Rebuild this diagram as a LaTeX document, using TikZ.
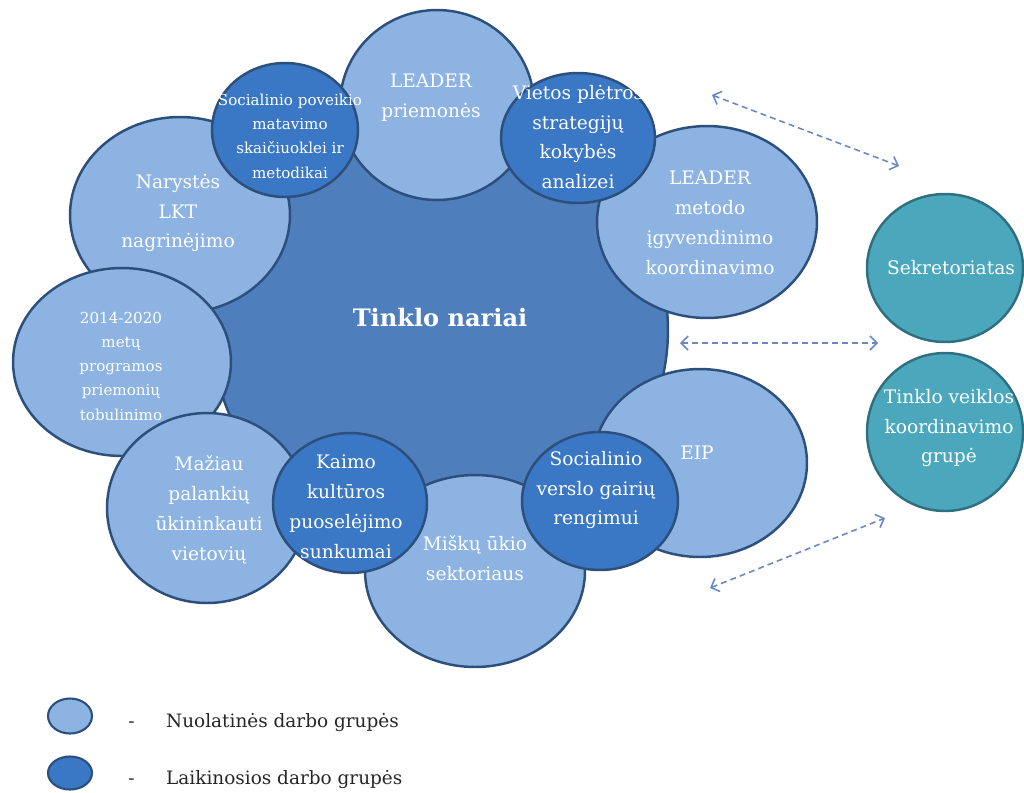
\documentclass[tikz,border=0pt]{standalone}
\usepackage{fontspec}
\setmainfont{DejaVu Serif}
\usepackage{xcolor}
\usepackage{tikz}
\usetikzlibrary{shapes.geometric, arrows.meta}

\definecolor{lightfill}{HTML}{8DB3E2}
\definecolor{darkfill}{HTML}{3A77C4}
\definecolor{corefill}{HTML}{4E7FBC}
\definecolor{grpline}{HTML}{2C4F7C}
\definecolor{tealfill}{HTML}{4BA8BC}
\definecolor{tealline}{HTML}{2F6F80}
\definecolor{linkcol}{HTML}{6A88C4}

\tikzset{
  wh/.style 2 args={minimum width=#1, minimum height=#2},
  grp/.style={ellipse, draw=grpline, line width=1.4pt, inner sep=0pt},
  lightgrp/.style={grp, fill=lightfill},
  darkgrp/.style={grp, fill=darkfill},
  sidegrp/.style={ellipse, draw=tealline, line width=1.4pt, fill=tealfill, inner sep=0pt},
  grptxt/.style={text=white, align=center, inner sep=0pt, font=\fontsize{10.6}{17}\selectfont},
  smalltxt/.style={grptxt, font=\fontsize{8.6}{13.8}\selectfont},
  keytxt/.style={text=black!85, anchor=west, inner sep=0pt, font=\fontsize{10.5}{13}\selectfont},
  link/.style={linkcol, line width=0.9pt, dash pattern=on 3.4pt off 2.3pt,
    {Straight Barb[length=4pt,width=8pt]}-{Straight Barb[length=4pt,width=8pt]}}
}

\begin{document}
\begin{tikzpicture}[x=0.02cm, y=-0.02cm]
            \useasboundingbox (0,0) rectangle (1024,792);

            % members
            \node[grp, fill=corefill, wh={9.12cm}{8.8cm}] (nariai) at (440,330) {};
            \node[text=white, inner sep=0pt, font=\bfseries\fontsize{13.7}{16}\selectfont] (nariaitxt) at (440,318) {Tinklo nariai};

            % permanent groups
            \node[lightgrp, wh={4.4cm}{3.92cm}] (narystes) at (180,215) {};
            \node[grptxt] (narystestxt) at (178,213) {Narystės\\LKT\\nagrinėjimo};
            \node[lightgrp, wh={4.36cm}{3.76cm}] (programa) at (122,362) {};
            \node[smalltxt] (programatxt) at (121,366) {2014-2020\\metų\\programos\\priemonių\\tobulinimo};
            \node[lightgrp, wh={4.0cm}{3.8cm}] (maziau) at (207,508) {};
            \node[grptxt] (maziautxt) at (209,510) {Mažiau\\palankių\\ūkininkauti\\vietovių};
            \node[lightgrp, wh={4.4cm}{3.84cm}] (misku) at (475,571) {};
            \node[grptxt] (miskutxt) at (475,558) {Miškų ūkio\\sektoriaus};
            \node[lightgrp, wh={4.28cm}{3.76cm}] (eip) at (700,463) {};
            \node[grptxt] (eiptxt) at (697,453) {EIP};
            \node[lightgrp, wh={4.4cm}{3.84cm}] (leaderm) at (707,222) {};
            \node[grptxt] (leadermtxt) at (710,223) {LEADER\\metodo\\įgyvendinimo\\koordinavimo};
            \node[lightgrp, wh={3.88cm}{3.8cm}] (leaderp) at (437,105) {};
            \node[grptxt] (leaderptxt) at (431,98) {LEADER\\priemonės};

            % temporary groups
            \node[darkgrp, wh={2.92cm}{2.68cm}] (socpov) at (285,130) {};
            \node[smalltxt] (socpovtxt) at (290,136) {Socialinio poveikio\\matavimo\\skaičiuoklei ir\\metodikai};
            \node[darkgrp, wh={3.08cm}{2.6cm}] (vietos) at (578,138) {};
            \node[grptxt] (vietostxt) at (578,137) {Vietos plėtros\\strategijų\\kokybės\\analizei};
            \node[darkgrp, wh={3.08cm}{2.8cm}] (kaimo) at (350,503) {};
            \node[grptxt] (kaimotxt) at (346,507) {Kaimo\\kultūros\\puoselėjimo\\sunkumai};
            \node[darkgrp, wh={3.12cm}{2.76cm}] (socversl) at (600,501) {};
            \node[grptxt] (socversltxt) at (596,490) {Socialinio\\verslo gairių\\rengimui};

            % side bodies
            \node[sidegrp, wh={3.12cm}{2.96cm}] (sekr) at (945,268) {};
            \node[grptxt] (sekrtxt) at (951,268) {Sekretoriatas};
            \node[sidegrp, wh={3.12cm}{3.16cm}] (tvkg) at (945,432) {};
            \node[grptxt] (tvkgtxt) at (949,428) {Tinklo veiklos\\koordinavimo\\grupė};

            % links
            \coordinate (l1a) at (712,95);
            \coordinate (l1b) at (899,166);
            \coordinate (l2a) at (680,343);
            \coordinate (l2b) at (878,343);
            \coordinate (l3a) at (710,588);
            \coordinate (l3b) at (885,518);
            \draw[link] (l1a) -- (l1b);
            \draw[link] (l2a) -- (l2b);
            \draw[link] (l3a) -- (l3b);

            % legend
            \node[lightgrp, line width=1.2pt, wh={0.88cm}{0.7cm}] (keylight) at (70,716) {};
            \node[keytxt] (keylighttxt) at (128,722) {-\hspace{18pt}Nuolatinės darbo grupės};
            \node[darkgrp, line width=1.2pt, wh={0.88cm}{0.66cm}] (keydark) at (70,773) {};
            \node[keytxt] (keydarktxt) at (128,779) {-\hspace{18pt}Laikinosios darbo grupės};
        \end{tikzpicture}
\end{document}
